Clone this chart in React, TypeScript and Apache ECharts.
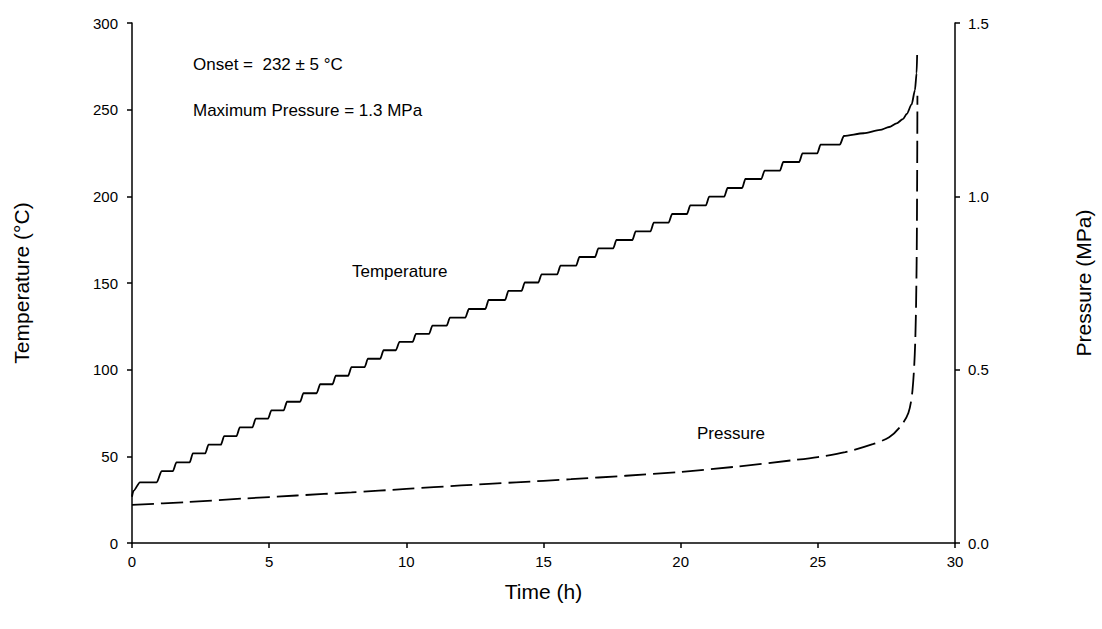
import React, { useEffect, useRef } from "react";
import * as echarts from "echarts";

// Temperature (°C) vs time (h): plateau/rise points
const tempTime = [
  0, 0.05, 0.29,
  0.9, 1.08, 1.49, 1.62, 2.1, 2.22, 2.67, 2.79, 3.24, 3.36, 3.81, 3.93,
  4.39, 4.51, 4.96, 5.08, 5.53, 5.65, 6.13, 6.25, 6.73, 6.86, 7.31, 7.43,
  7.88, 8.0, 8.48, 8.6, 9.05, 9.17, 9.62, 9.75, 10.23, 10.35, 10.83, 10.95,
  11.47, 11.59, 12.15, 12.28, 12.88, 13.0, 13.6, 13.72, 14.2, 14.32,
  14.81, 14.93, 15.5, 15.62, 16.19, 16.31, 16.88, 17.0, 17.54, 17.66,
  18.24, 18.36, 18.9, 19.02, 19.56, 19.69, 20.23, 20.35, 20.92, 21.04,
  21.59, 21.71, 22.24, 22.36, 22.94, 23.06, 23.62, 23.74, 24.32, 24.44,
  24.98, 25.1, 25.8, 25.95,
  26.67, 27.27, 27.6, 27.87, 28.1, 28.24, 28.42, 28.54, 28.6, 28.62,
];
const tempValue = [
  26.7, 30, 35.0,
  35.0, 41.5, 41.5, 46.5, 46.5, 51.7, 51.7, 56.7, 56.7, 61.7, 61.7, 66.7,
  66.7, 71.7, 71.7, 76.5, 76.5, 81.5, 81.5, 86.4, 86.4, 91.6, 91.6, 96.5,
  96.5, 101.5, 101.5, 106.3, 106.3, 111.2, 111.2, 116.0, 116.0, 120.6, 120.6, 125.4,
  125.4, 130.0, 130.0, 135.0, 135.0, 140.2, 140.2, 145.4, 145.4, 150.3,
  150.3, 155.0, 155.0, 160.0, 160.0, 165.0, 165.0, 170.0, 170.0, 174.8,
  174.8, 179.8, 179.8, 184.8, 184.8, 189.8, 189.8, 194.8, 194.8, 199.8,
  199.8, 204.8, 204.8, 210.0, 210.0, 214.8, 214.8, 219.8, 219.8, 224.8,
  224.8, 229.8, 229.8, 234.8,
  236.4, 238.3, 240.0, 242.1, 244.5, 247.5, 253.0, 261.3, 271.0, 281.5,
];

// Pressure (MPa) vs time (h)
const pressTime = [
  0, 2, 4, 6, 8, 10, 12, 14, 16, 18, 20, 22, 24, 25, 26, 27, 27.6, 28.0,
  28.3, 28.45, 28.55, 28.6, 28.62, 28.63,
];
const pressValue = [
  0.11, 0.118, 0.128, 0.137, 0.146, 0.156, 0.166, 0.175, 0.184, 0.194,
  0.205, 0.22, 0.238, 0.248, 0.262, 0.285, 0.305, 0.335, 0.375, 0.44,
  0.58, 0.8, 1.05, 1.29,
];

const xTicks = [0, 5, 10, 15, 20, 25, 30];
const tempTicks = [0, 50, 100, 150, 200, 250, 300];
const pressTicks = [0.0, 0.5, 1.0, 1.5];

const FONT = "Liberation Sans";

export default function App() {
  const ref = useRef<HTMLDivElement>(null);
  useEffect(() => {
    if (!ref.current) return;
    const chart = echarts.init(ref.current, null, { renderer: "svg" });
    const tempData = tempTime.map((t, i) => [t, tempValue[i]]);
    const pressData = pressTime.map((t, i) => [t, pressValue[i]]);
    const axisLine = { show: true, onZero: false, lineStyle: { color: "#000", width: 1.5 } };
    const axisTick = { show: true, inside: false, length: 5, lineStyle: { color: "#000", width: 1.5 } };
    const axisLabel = { color: "#000", fontFamily: FONT, fontSize: 15 };
    const nameStyle = { color: "#000", fontFamily: FONT, fontSize: 21 };
    chart.setOption({
      animation: false,
      backgroundColor: "#fff",
      grid: { left: 132, right: 140, top: 23, bottom: 86, containLabel: false },
      xAxis: {
        type: "value",
        min: xTicks[0],
        max: xTicks[xTicks.length - 1],
        interval: 5,
        axisLine,
        axisTick,
        axisLabel: { ...axisLabel, margin: 11 },
        splitLine: { show: false },
        name: "Time (h)",
        nameLocation: "middle",
        nameGap: 38,
        nameTextStyle: nameStyle,
      },
      yAxis: [
        {
          type: "value",
          position: "left",
          min: tempTicks[0],
          max: tempTicks[tempTicks.length - 1],
          interval: 50,
          axisLine,
          axisTick,
          axisLabel: { ...axisLabel, margin: 14 },
          splitLine: { show: false },
          name: "Temperature (°C)",
          nameLocation: "middle",
          nameGap: 100,
          nameRotate: 90,
          nameTextStyle: nameStyle,
        },
        {
          type: "value",
          position: "right",
          min: pressTicks[0],
          max: pressTicks[pressTicks.length - 1],
          interval: 0.5,
          axisLine,
          axisTick,
          axisLabel: { ...axisLabel, margin: 13, formatter: (v: number) => v.toFixed(1) },
          splitLine: { show: false },
          name: "Pressure (MPa)",
          nameLocation: "middle",
          nameGap: 118,
          nameRotate: 90,
          nameTextStyle: nameStyle,
        },
      ],
      series: [
        {
          name: "Temperature",
          type: "line",
          yAxisIndex: 0,
          data: tempData,
          showSymbol: false,
          symbol: "none",
          smooth: 0.25,
          smoothMonotone: "x",
          lineStyle: { color: "#000", width: 1.8 },
        },
        {
          name: "Pressure",
          type: "line",
          yAxisIndex: 1,
          data: pressData,
          showSymbol: false,
          symbol: "none",
          smooth: 0.3,
          lineStyle: { color: "#000", width: 1.8, type: [22, 7] },
        },
      ],
      graphic: [
        { type: "text", left: 193, top: 56, style: { text: "Onset =  232 ± 5 °C", fill: "#000", font: `17px '${FONT}'` } },
        { type: "text", left: 193, top: 102, style: { text: "Maximum Pressure = 1.3 MPa", fill: "#000", font: `17px '${FONT}'` } },
        { type: "text", left: 352, top: 263, style: { text: "Temperature", fill: "#000", font: `17px '${FONT}'` } },
        { type: "text", left: 697, top: 425, style: { text: "Pressure", fill: "#000", font: `17px '${FONT}'` } },
      ],
    });
    return () => chart.dispose();
  }, []);
  return (
    <div
      ref={ref}
      style={{ position: "fixed", left: 0, top: 0, width: 1102, height: 629, background: "#fff" }}
    />
  );
}
